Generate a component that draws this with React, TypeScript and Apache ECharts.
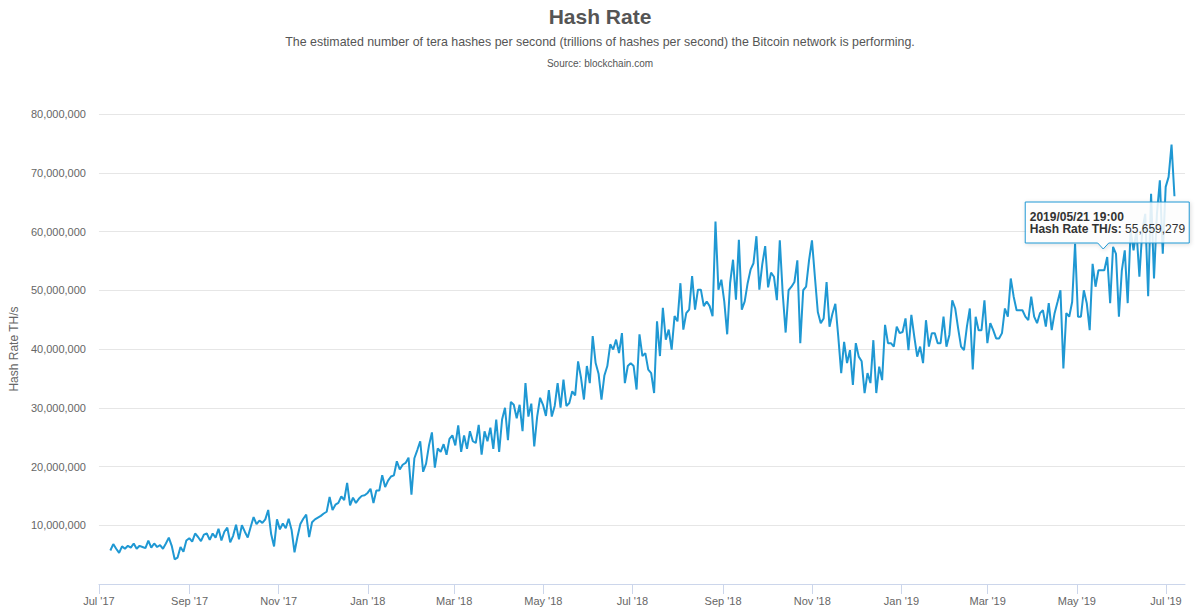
import React, { useEffect, useRef } from 'react';
import * as echarts from 'echarts';

// ---- data ----
const DAY_MS = 86400000;
const firstPointUTC = Date.UTC(2017, 6, 8, 19); // 2017/07/08 19:00
const stepDays = 2;

// Hash rate, millions of TH/s, one reading every two days
const hashRateMillions: number[] = [
  5.7, 6.8, 6.0, 5.3, 6.4, 6.0, 6.5, 6.2, 6.9, 6.0,
  6.5, 6.3, 6.1, 7.4, 6.2, 6.9, 6.3, 6.6, 6.0, 6.9,
  7.9, 6.5, 4.2, 4.5, 6.3, 5.5, 7.4, 7.8, 7.2, 8.6,
  8.0, 7.3, 8.4, 8.6, 7.5, 8.6, 7.9, 9.4, 7.4, 8.9,
  9.6, 7.1, 8.2, 10.1, 7.6, 10.0, 8.9, 7.9, 9.7, 11.4,
  10.2, 10.8, 10.4, 11.0, 12.6, 8.5, 6.4, 11.0, 9.3, 10.3,
  9.5, 11.1, 9.2, 5.4, 8.0, 10.2, 11.1, 11.8, 8.0, 10.5,
  11.0, 11.3, 11.6, 12.0, 12.3, 14.8, 12.6, 13.5, 13.8, 14.9,
  14.3, 17.2, 13.4, 14.7, 13.8, 14.5, 15.0, 15.1, 15.5, 16.2,
  13.8, 15.9, 15.9, 18.5, 16.5, 17.6, 18.3, 18.5, 20.9, 19.5,
  20.3, 20.6, 21.5, 15.2, 21.4, 22.8, 24.3, 19.1, 20.5, 23.6,
  25.8, 19.8, 23.1, 22.5, 23.8, 22.0, 24.7, 25.3, 23.6, 27.0,
  22.5, 25.3, 23.0, 26.0, 24.3, 24.0, 27.1, 22.0, 26.0, 24.3,
  26.6, 23.0, 28.0, 22.5, 28.0, 30.0, 24.5, 31.0, 30.5, 28.2,
  30.5, 26.0, 34.2, 28.5, 30.7, 23.4, 28.5, 31.7, 30.5, 28.6,
  33.0, 28.5, 30.3, 34.2, 30.0, 34.8, 30.3, 30.8, 32.8, 32.1,
  37.9, 35.1, 31.4, 37.1, 34.2, 42.2, 37.6, 35.8, 31.4, 35.5,
  37.1, 40.8, 39.9, 41.6, 39.3, 42.7, 34.2, 37.1, 37.6, 37.1,
  33.1, 42.5, 38.8, 39.3, 36.5, 35.9, 32.5, 44.7, 38.8, 47.0,
  41.6, 43.3, 39.9, 45.6, 44.7, 51.2, 43.3, 46.1, 46.7, 52.4,
  46.7, 50.1, 50.1, 47.3, 48.1, 47.3, 45.6, 61.7, 50.1, 51.8,
  48.1, 42.5, 51.2, 55.2, 48.4, 58.6, 46.7, 48.1, 51.2, 53.5,
  54.6, 59.2, 50.1, 54.4, 57.5, 50.5, 53.0, 52.3, 48.3, 58.5,
  49.4, 42.8, 50.0, 50.6, 51.4, 55.1, 41.0, 50.0, 50.6, 55.1,
  58.5, 52.3, 46.3, 44.4, 45.2, 51.4, 43.8, 46.0, 47.7, 42.1,
  35.9, 41.2, 37.6, 39.8, 33.9, 41.0, 38.7, 37.9, 32.5, 35.9,
  34.2, 41.5, 32.5, 37.0, 34.7, 44.1, 41.0, 41.0, 40.4, 43.8,
  42.7, 42.9, 45.2, 39.8, 45.8, 42.1, 38.7, 40.4, 37.6, 44.9,
  40.4, 42.7, 42.7, 41.0, 41.0, 45.5, 40.4, 42.4, 48.3, 46.9,
  43.5, 40.4, 39.8, 43.8, 46.9, 36.5, 45.5, 43.2, 43.2, 48.3,
  41.0, 44.4, 43.2, 41.8, 41.8, 42.7, 46.9, 45.5, 52.0, 48.9,
  46.6, 46.6, 46.6, 45.5, 44.9, 48.9, 45.5, 44.4, 46.1, 46.6,
  43.8, 47.8, 43.2, 46.1, 48.0, 50.0, 36.7, 46.1, 45.5, 48.0,
  57.9, 45.5, 45.5, 50.0, 47.8, 43.2, 54.5, 50.6, 53.4, 53.4,
  53.4, 55.659279, 47.8, 57.4, 56.2, 45.5, 53.4, 56.8, 47.8, 60.2,
  56.8, 60.2, 52.3, 60.2, 63.0, 49.0, 66.4, 52.0, 63.0, 68.7,
  56.2, 67.6, 69.3, 74.8, 66.0,
];

const tickMonths: [number, number][] = [
  [2017, 6], [2017, 8], [2017, 10], [2018, 0], [2018, 2], [2018, 4], [2018, 6],
  [2018, 8], [2018, 10], [2019, 0], [2019, 2], [2019, 4], [2019, 6],
];
const tickLabels = [
  "Jul '17", "Sep '17", "Nov '17", "Jan '18", "Mar '18", "May '18", "Jul '18",
  "Sep '18", "Nov '18", "Jan '19", "Mar '19", "May '19", "Jul '19",
];

const yTickValues = [0, 10e6, 20e6, 30e6, 40e6, 50e6, 60e6, 70e6, 80e6];

const titleText = 'Hash Rate';
const subtitleText =
  'The estimated number of tera hashes per second (trillions of hashes per second) the Bitcoin network is performing.';
const sourceText = 'Source: blockchain.com';
const yAxisName = 'Hash Rate TH/s';
const seriesName = 'Hash Rate TH/s';
const highlightedDate = '2019/05/21 19:00';

const axisMinUTC = Date.UTC(2017, 6, 1);
const axisMaxUTC = Date.UTC(2019, 6, 14);

// ---- styles ----
const FONT = "'Liberation Sans', Arial, Helvetica, sans-serif";
const LINE_COLOR = '#1f98d3';

const pad = (n: number) => (n < 10 ? '0' + n : '' + n);
const fmtDate = (t: number) => {
  const d = new Date(t);
  return (
    d.getUTCFullYear() + '/' + pad(d.getUTCMonth() + 1) + '/' + pad(d.getUTCDate()) +
    ' ' + pad(d.getUTCHours()) + ':' + pad(d.getUTCMinutes())
  );
};

export default function App() {
  const ref = useRef<HTMLDivElement>(null);

  useEffect(() => {
    if (!ref.current) return;
    const chart = echarts.init(ref.current, undefined, { renderer: 'svg' });

    const times = hashRateMillions.map((_, i) => firstPointUTC + i * stepDays * DAY_MS);
    const points = hashRateMillions.map((v, i) => [times[i], Math.round(v * 1e6)]);
    const tickValues = tickMonths.map(([y, m]) => Date.UTC(y, m, 1));

    chart.setOption({
      animation: false,
      backgroundColor: '#ffffff',
      title: [
        {
          text: titleText,
          left: 'center',
          top: 1,
          textStyle: { fontFamily: FONT, fontSize: 21, fontWeight: 'bold', color: '#555555' },
        },
        {
          text: subtitleText,
          left: 'center',
          top: 31,
          textStyle: { fontFamily: FONT, fontSize: 12.4, fontWeight: 'normal', color: '#555555' },
        },
        {
          text: sourceText,
          left: 'center',
          top: 53,
          textStyle: { fontFamily: FONT, fontSize: 10, fontWeight: 'normal', color: '#555555' },
        },
      ],
      grid: { left: 95, right: 15, top: 114, bottom: 26, containLabel: false },
      xAxis: {
        type: 'value',
        min: axisMinUTC,
        max: axisMaxUTC,
        axisLine: { show: true, lineStyle: { color: '#ccd6eb', width: 1 } },
        axisTick: {
          show: true,
          customValues: tickValues,
          length: 10,
          lineStyle: { color: '#ccd6eb' },
        },
        axisLabel: {
          customValues: tickValues,
          margin: 11,
          color: '#666666',
          fontFamily: FONT,
          fontSize: 11,
          formatter: (v: number) => {
            const idx = tickValues.indexOf(v);
            return idx >= 0 ? tickLabels[idx] : '';
          },
        },
        splitLine: { show: false },
      },
      yAxis: {
        type: 'value',
        min: 0,
        max: 80e6,
        interval: 10e6,
        name: yAxisName,
        nameLocation: 'middle',
        nameRotate: 90,
        nameGap: 76,
        nameTextStyle: { color: '#666666', fontFamily: FONT, fontSize: 12 },
        axisLine: { show: false },
        axisTick: { show: false },
        axisLabel: {
          showMinLabel: false,
          margin: 13,
          color: '#666666',
          fontFamily: FONT,
          fontSize: 11,
          formatter: (v: number) => (yTickValues.indexOf(v) > 0 ? v.toLocaleString('en-US') : ''),
        },
        splitLine: { show: true, lineStyle: { color: '#e6e6e6', width: 1 } },
      },
      series: [
        {
          name: seriesName,
          type: 'line',
          data: points,
          showSymbol: false,
          symbol: 'none',
          silent: true,
          lineStyle: { color: LINE_COLOR, width: 2 },
          itemStyle: { color: LINE_COLOR },
        },
      ],
    });

    // tooltip-like callout for the highlighted reading
    const hi = times.findIndex((t) => fmtDate(t) === highlightedDate);
    if (hi >= 0) {
      const [px, py] = chart.convertToPixel({ seriesIndex: 0 }, points[hi]) as number[];
      const L = px - 82;
      const R = px + 82;
      const T = py - 55;
      const B = py - 14;
      const valueText = points[hi][1].toLocaleString('en-US');
      chart.setOption({
        graphic: [
          {
            type: 'polygon',
            z: 100,
            shape: {
              points: [
                [L, T], [R, T], [R, B], [px + 1.5, B], [px - 4, py - 8], [px - 9.5, B], [L, B],
              ],
            },
            style: {
              fill: 'rgba(255,255,255,0.85)',
              stroke: LINE_COLOR,
              lineWidth: 1,
              shadowBlur: 4,
              shadowColor: 'rgba(0,0,0,0.15)',
              shadowOffsetX: 1,
              shadowOffsetY: 1,
            },
          },
          {
            type: 'text',
            z: 101,
            x: L + 4.5,
            y: py - 40,
            style: {
              text: fmtDate(points[hi][0]),
              fill: '#333333',
              font: `bold 12px ${FONT}`,
              verticalAlign: 'middle',
              align: 'left',
            },
          },
          {
            type: 'text',
            z: 101,
            x: L + 4.5,
            y: py - 28,
            style: {
              text: `{b|${seriesName}:} {n|${valueText}}`,
              fill: '#333333',
              fontFamily: FONT,
              fontSize: 12,
              verticalAlign: 'middle',
              align: 'left',
              rich: {
                b: { fontWeight: 'bold', fontFamily: FONT, fontSize: 12, fill: '#333333', color: '#333333' },
                n: { fontWeight: 'normal', fontFamily: FONT, fontSize: 12, fill: '#333333', color: '#333333' },
              },
            },
          },
        ],
      });
    }

    return () => chart.dispose();
  }, []);

  return (
    <div
      ref={ref}
      style={{ position: 'fixed', left: 0, top: 0, width: 1200, height: 610, background: '#fff' }}
    />
  );
}
